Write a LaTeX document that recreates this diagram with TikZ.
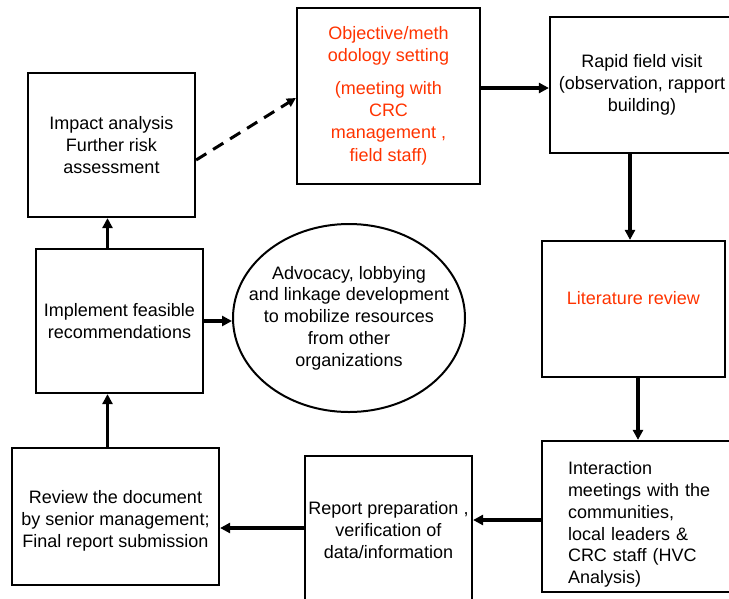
\documentclass[tikz,border=0pt]{standalone}
\usepackage{fontspec}
\setmainfont{Liberation Sans}
\usetikzlibrary{arrows.meta,shapes.geometric}
\definecolor{redtxt}{RGB}{255,51,0}
\begin{document}
\begin{tikzpicture}[x=1pt,y=-1pt,
  box/.style={draw, line width=2.2pt, inner sep=0pt, align=center, font=\fontsize{18}{21.8}\selectfont},
  oval/.style={draw, ellipse, line width=2pt, inner xsep=-30pt, inner ysep=0pt, align=center, font=\fontsize{18}{21.8}\selectfont},
  arr/.style={line width=3.3pt, -{Triangle[length=10pt,width=10pt]}},
  dasharr/.style={line width=3pt, dash pattern=on 12pt off 8pt, -{Triangle[length=9pt,width=9pt]}},
  redtext/.style={text=redtxt}
]
\useasboundingbox (0,0) rectangle (729,598);

\node[box, minimum width=167, minimum height=144] (impact) at (111.5,145)
  {Impact analysis\\Further risk\\assessment};
\node[box, redtext, minimum width=183, minimum height=176] (obj) at (388.5,96)
  {Objective/meth\\odology setting\\[11pt](meeting with\\CRC\\management ,\\[1.5pt]field staff)};
\node[box, minimum width=184, minimum height=136] (rapid) at (642,85)
  {Rapid field visit\\(observation, rapport\\building)};
\node[box, redtext, minimum width=183, minimum height=136] (lit) at (633.5,309)
  {\rule{0pt}{19pt}Literature review\\\strut};
\node[box, minimum width=200, minimum height=151, text width=148, inner xsep=26pt, align=left] (inter) at (642,516.5)
  {\rule{0pt}{29pt}Interaction\\meetings with the\\communities,\\local leaders \&\\CRC staff (HVC\\Analysis)};
\node[box, minimum width=167, minimum height=148] (report) at (388.5,530)
  {Report preparation ,\\verification of\\data/information};
\node[box, minimum width=207, minimum height=137] (review) at (115.5,516.5)
  {\rule{0pt}{22pt}Review the document\\by senior management;\\Final report submission};
\node[box, minimum width=167, minimum height=144] (impl) at (119.5,321)
  {Implement feasible\\recommendations};
\node[oval, minimum width=232, minimum height=188] (adv) at (349,318)
  {Advocacy, lobbying\\and linkage development\\to mobilize resources\\from other\\organizations};

\draw[dasharr] ([yshift=-15pt]impact.east) -- ([yshift=-2pt]obj.west);
\draw[arr] ([yshift=8pt]obj.east) -- ([yshift=8pt]obj.east -| rapid.west);
\draw[arr] ([xshift=-3.5pt]lit.north |- rapid.south) -- ([xshift=-3.5pt]lit.north);
\draw[arr] ([xshift=4.5pt]lit.south) -- ([xshift=4.5pt]lit.south |- inter.north);
\draw[arr] ([yshift=-3.5pt]inter.west) -- ([yshift=-3.5pt]inter.west -| report.east);
\draw[arr] ([yshift=-11.5pt]review.east -| report.west) -- ([yshift=-11.5pt]review.east);
\draw[arr] ([xshift=-12pt]impl.south |- review.north) -- ([xshift=-12pt]impl.south);
\draw[arr] ([xshift=-12pt]impl.north) -- ([xshift=-12pt]impl.north |- impact.south);
\draw[arr] (impl.east) -- (impl.east -| adv.west);
\end{tikzpicture}
\end{document}
